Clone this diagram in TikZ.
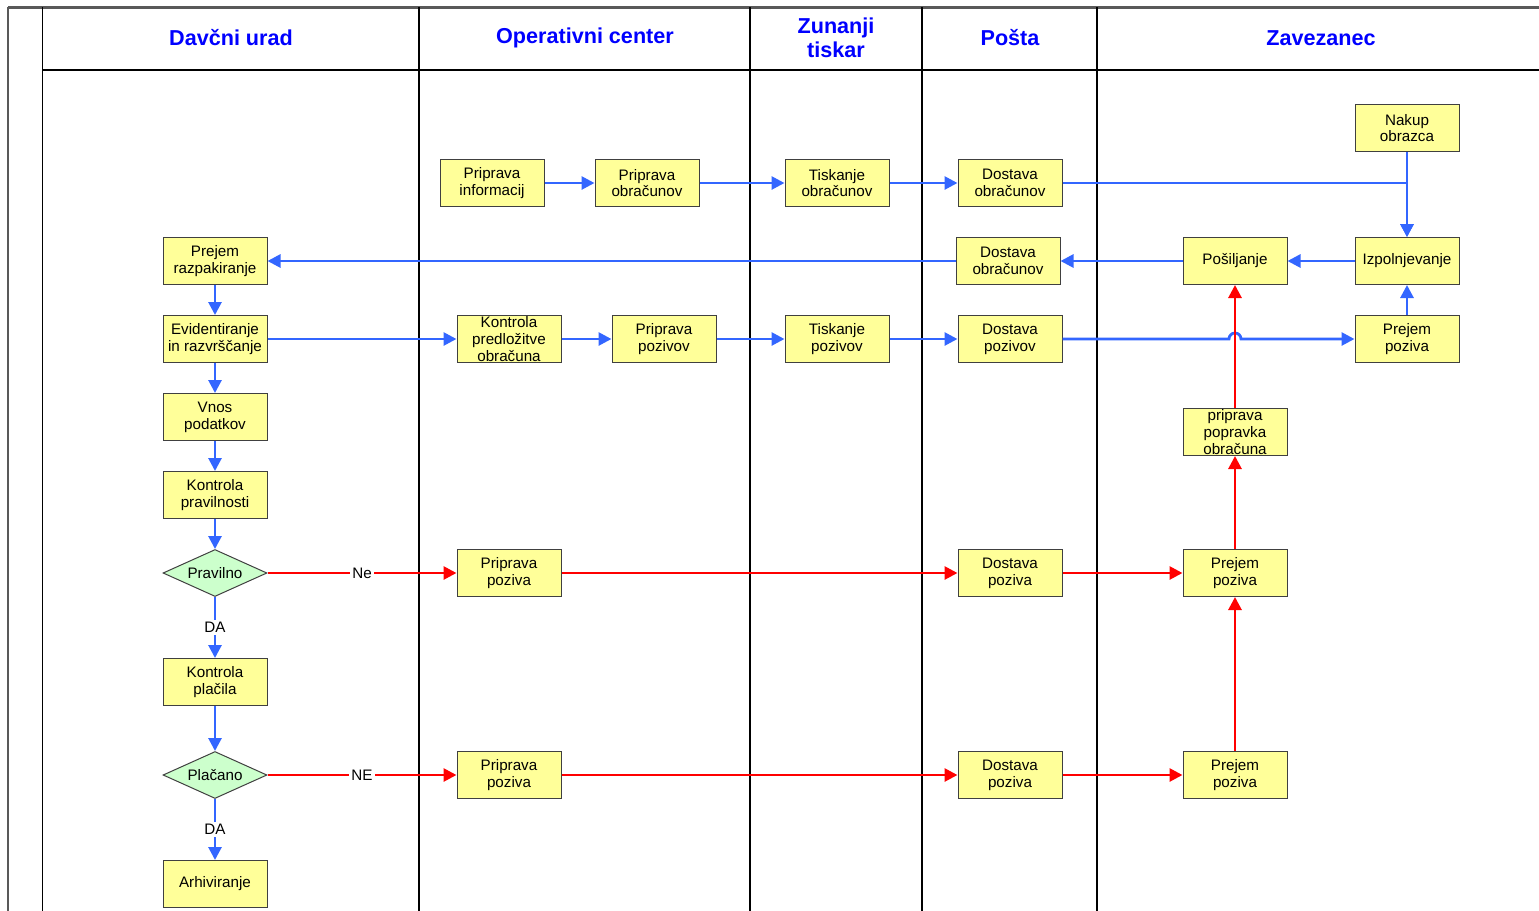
\documentclass[tikz,border=0pt]{standalone}
\usepackage{fontspec}
\setmainfont{Liberation Sans}
\usetikzlibrary{arrows.meta,shapes.geometric}
\tikzset{>={Triangle[length=6.5pt,width=6.5pt]}}

\definecolor{boxfill}{RGB}{255,255,153}
\definecolor{decfill}{RGB}{204,255,204}
\definecolor{flowblue}{RGB}{51,102,255}
\definecolor{headblue}{RGB}{0,0,255}

\tikzset{
  task/.style={rectangle,draw=black!75,fill=boxfill,line width=0.5pt,
    minimum width=52pt,minimum height=23.5pt,inner sep=0pt,align=center,
    font=\fontsize{7.6}{8.4}\selectfont},
  choice/.style={diamond,draw=black!75,fill=decfill,line width=0.5pt,
    aspect=2.2,minimum width=52pt,minimum height=23.5pt,inner sep=0pt,
    font=\fontsize{7.6}{8.4}\selectfont},
  lane/.style={font=\fontsize{10.8}{11.8}\selectfont\bfseries,text=headblue,align=center},
  bflow/.style={->,flowblue,line width=1.4pt},
  rflow/.style={->,red,line width=1.4pt},
  answer/.style={fill=white,text=black,inner sep=1pt,font=\fontsize{7.6}{8.4}\selectfont}
}

\begin{document}
\begin{tikzpicture}[x=0.5pt,y=-0.5pt]
\useasboundingbox (0,0) rectangle (1539,911);

% swimlanes
\draw[black!65,line width=1.5pt] (8,7) -- (1539,7);
\draw[black!65,line width=0.8pt] (8,7) -- (8,911);
\draw[line width=0.5pt] (42,7) -- (42,911);
\draw[line width=0.6pt] (42,70) -- (1539,70);
\foreach \x in {419,750,922,1097}
  \draw[line width=0.6pt] (\x,7) -- (\x,911);

\node[lane] (hdu) at (231,38) {Davčni urad};
\node[lane] (hoc) at (585,38) {Operativni center};
\node[lane] (hzt) at (836,38) {Zunanji\\tiskar};
\node[lane] (hpo) at (1010,38) {Pošta};
\node[lane] (hza) at (1321,38) {Zavezanec};

% Davcni urad
\node[task] (prraz) at (215,261) {Prejem\\razpakiranje};
\node[task] (evid) at (215,339) {Evidentiranje\\in razvrščanje};
\node[task] (vnos) at (215,417) {Vnos\\podatkov};
\node[task] (kprav) at (215,495) {Kontrola\\pravilnosti};
\node[choice] (pravilno) at (215,573) {Pravilno};
\node[task] (kplac) at (215,682) {Kontrola\\plačila};
\node[choice] (placano) at (215,775) {Plačano};
\node[task] (arh) at (215,884) {Arhiviranje};

% Operativni center
\node[task] (pinf) at (492,183) {Priprava\\informacij};
\node[task] (pobr) at (647,183) {Priprava\\obračunov};
\node[task] (kpo) at (509,339) {Kontrola\\predložitve\\obračuna};
\node[task] (ppoz) at (664,339) {Priprava\\pozivov};
\node[task] (ppza) at (509,573) {Priprava\\poziva};
\node[task] (ppzb) at (509,775) {Priprava\\poziva};

% Zunanji tiskar
\node[task] (tobr) at (837,183) {Tiskanje\\obračunov};
\node[task] (tpoz) at (837,339) {Tiskanje\\pozivov};

% Posta
\node[task] (dobr) at (1010,183) {Dostava\\obračunov};
\node[task] (dobrb) at (1008,261) {Dostava\\obračunov};
\node[task] (dpoz) at (1010,339) {Dostava\\pozivov};
\node[task] (dpza) at (1010,573) {Dostava\\poziva};
\node[task] (dpzb) at (1010,775) {Dostava\\poziva};

% Zavezanec
\node[task] (nakup) at (1407,128) {Nakup\\obrazca};
\node[task] (izp) at (1407,261) {Izpolnjevanje};
\node[task] (posl) at (1235,261) {Pošiljanje};
\node[task] (prpoz) at (1407,339) {Prejem\\poziva};
\node[task] (popr) at (1235,432) {priprava\\popravka\\obračuna};
\node[task] (rpza) at (1235,573) {Prejem\\poziva};
\node[task] (rpzb) at (1235,775) {Prejem\\poziva};

% blue flow
\draw[bflow] (pinf) -- (pobr);
\draw[bflow] (pobr) -- (tobr);
\draw[bflow] (tobr) -- (dobr);
\draw[bflow] (dobr) -| (izp);
\draw[bflow] (nakup) -- (izp);
\draw[bflow] (izp) -- (posl);
\draw[bflow] (posl) -- (dobrb);
\draw[bflow] (dobrb) -- (prraz);
\draw[bflow] (prraz) -- (evid);
\draw[bflow] (evid) -- (vnos);
\draw[bflow] (vnos) -- (kprav);
\draw[bflow] (kprav) -- (pravilno);
\draw[bflow] (evid) -- (kpo);
\draw[bflow] (kpo) -- (ppoz);
\draw[bflow] (ppoz) -- (tpoz);
\draw[bflow] (tpoz) -- (dpoz);
\coordinate (hop) at (1229,339);
\draw[bflow] (dpoz.east) -- (hop) arc (180:360:6) -- (prpoz.west);
\draw[bflow] (prpoz) -- (izp);
\draw[bflow] (pravilno) -- node[answer] {DA} (kplac);
\draw[bflow] (kplac) -- (placano);
\draw[bflow] (placano) -- node[answer] {DA} (arh);

% red flow
\draw[rflow] (pravilno) -- node[answer] {Ne} (ppza);
\draw[rflow] (ppza) -- (dpza);
\draw[rflow] (dpza) -- (rpza);
\draw[rflow] (rpza) -- (popr);
\draw[rflow] (popr) -- (posl);
\draw[rflow] (placano) -- node[answer] {NE} (ppzb);
\draw[rflow] (ppzb) -- (dpzb);
\draw[rflow] (dpzb) -- (rpzb);
\draw[rflow] (rpzb) -- (rpza);
\end{tikzpicture}
\end{document}
